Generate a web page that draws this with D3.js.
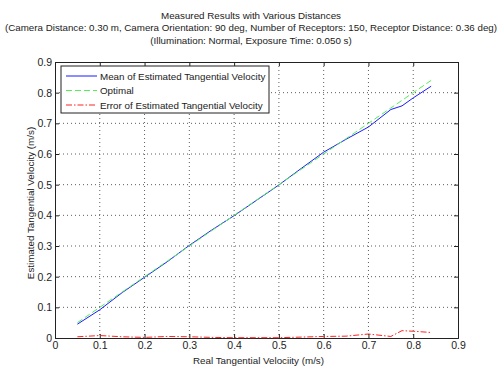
<!DOCTYPE html>
<html lang="en">
<head>
<meta charset="UTF-8">
<title>Measured Results with Various Distances</title>
<script src="https://d3js.org/d3.v7.min.js"></script>
<style>
  body { margin: 0; background: #fff; }
  svg text { font-family: "Liberation Sans", Arial, sans-serif; fill: #222; }
</style>
</head>
<body>
<svg width="502" height="367"></svg>
<script>
  const titleLines = [
    "Measured Results with Various Distances",
    "(Camera Distance: 0.30 m, Camera Orientation: 90 deg, Number of Receptors: 150, Receptor Distance: 0.36 deg)",
    "(Illumination: Normal, Exposure Time: 0.050 s)"
  ];
  const realVel = [0.05, 0.10, 0.15, 0.20, 0.25, 0.30, 0.35, 0.40, 0.45, 0.50, 0.55, 0.60, 0.65, 0.70, 0.75, 0.775, 0.80, 0.84];
  const meanEst = [0.045, 0.092, 0.148, 0.198, 0.248, 0.302, 0.352, 0.399, 0.449, 0.499, 0.553, 0.606, 0.648, 0.688, 0.745, 0.757, 0.783, 0.821];
  const optimal = [0.05, 0.10, 0.15, 0.20, 0.25, 0.30, 0.35, 0.40, 0.45, 0.50, 0.55, 0.60, 0.65, 0.70, 0.75, 0.775, 0.80, 0.84];
  const errEst = [0.004, 0.008, 0.004, 0.002, 0.005, 0.004, 0.002, 0.001, 0.001, 0.001, 0.003, 0.005, 0.006, 0.013, 0.005, 0.024, 0.022, 0.018];
  const xTicks = [0, 0.1, 0.2, 0.3, 0.4, 0.5, 0.6, 0.7, 0.8, 0.9];
  const yTicks = [0, 0.1, 0.2, 0.3, 0.4, 0.5, 0.6, 0.7, 0.8, 0.9];
  const legendNames = ["Mean of Estimated Tangential Velocity", "Optimal", "Error of Estimated Tangential Velocity"];

  const svg = d3.select("svg");
  const L = 55, R = 458, T = 62, B = 338;

  const x = d3.scaleLinear().domain([0, 0.9]).range([L, R]);
  const y = d3.scaleLinear().domain([0, 0.9]).range([B, T]);

  // title - the long middle line just fits the width
  svg.append("g").selectAll("text")
    .data(titleLines)
    .enter().append("text")
    .attr("x", 251)
    .attr("y", (d, i) => 18.5 + i * 12.5)
    .attr("text-anchor", "middle")
    .attr("font-size", "9.8px")
    .attr("textLength", (d, i) => i == 1 ? 492 : null)
    .attr("lengthAdjust", "spacingAndGlyphs")
    .text(d => d);

  // grid
  const grid = svg.append("g").attr("stroke", "#333").attr("stroke-width", 0.8).attr("stroke-dasharray", "1,3");
  grid.selectAll(".gx").data(xTicks.slice(1, -1)).enter().append("line")
    .attr("x1", d => x(d)).attr("x2", d => x(d)).attr("y1", T).attr("y2", B);
  grid.selectAll(".gy").data(yTicks.slice(1, -1)).enter().append("line")
    .attr("y1", d => y(d)).attr("y2", d => y(d)).attr("x1", L).attr("x2", R);

  // axes (ticks inside, like matlab)
  const fmt = d => d === 0 ? "0" : d3.format(".1f")(d);
  svg.append("g").attr("transform", `translate(0,${B})`)
    .call(d3.axisBottom(x).tickValues(xTicks).tickSize(-4).tickPadding(4).tickFormat(fmt));
  svg.append("g").attr("transform", `translate(${L},0)`)
    .call(d3.axisLeft(y).tickValues(yTicks).tickSize(-4).tickPadding(3).tickFormat(fmt));
  svg.append("g").attr("transform", `translate(0,${T})`)
    .call(d3.axisTop(x).tickValues(xTicks).tickSize(-4).tickFormat(""));
  svg.append("g").attr("transform", `translate(${R},0)`)
    .call(d3.axisRight(y).tickValues(yTicks).tickSize(-4).tickFormat(""));
  svg.selectAll(".domain").attr("stroke", "#222");
  svg.selectAll(".tick line").attr("stroke", "#222");
  svg.selectAll(".tick text").attr("font-size", "10.5px").attr("fill", "#333")
    .attr("font-family", "Liberation Sans, Arial, sans-serif");

  // axis labels
  svg.append("text").attr("x", (L + R) / 2 + 2).attr("y", 364)
    .attr("text-anchor", "middle").attr("font-size", "9.8px")
    .text("Real Tangential Velociity (m/s)");
  svg.append("text")
    .attr("transform", `translate(34,${(T + B) / 2 + 3}) rotate(-90)`)
    .attr("text-anchor", "middle").attr("font-size", "9.8px")
    .text("Estimated Tangential Velocity (m/s)");

  // lines
  const line = d3.line().x(d => x(d[0])).y(d => y(d[1]));
  const series = [
    { vals: meanEst, color: "#1a1aff", dash: null },
    { vals: optimal, color: "#55ee55", dash: "6,3" },
    { vals: errEst, color: "#ff2222", dash: "6,2,1.5,2" }
  ];
  svg.append("g").selectAll("path")
    .data(series)
    .enter().append("path")
    .attr("d", s => line(realVel.map((v, i) => [v, s.vals[i]])))
    .attr("fill", "none")
    .attr("stroke", s => s.color)
    .attr("stroke-width", 1)
    .attr("stroke-dasharray", s => s.dash);

  // legend
  const lg = svg.append("g");
  lg.append("rect").attr("x", 61).attr("y", 66).attr("width", 208).attr("height", 47)
    .attr("fill", "#fff").attr("stroke", "#222").attr("stroke-width", 1);
  const rows = lg.selectAll(".row").data(series).enter().append("g")
    .attr("transform", (d, i) => `translate(0,${76 + i * 14.5})`);
  rows.append("line").attr("x1", 66).attr("x2", 97).attr("y1", 0).attr("y2", 0)
    .attr("stroke", d => d.color).attr("stroke-width", 1)
    .attr("stroke-dasharray", d => d.dash);
  rows.append("text").attr("x", 100).attr("y", 3.5).attr("font-size", "9.8px")
    .text((d, i) => legendNames[i]);
</script>
</body>
</html>
